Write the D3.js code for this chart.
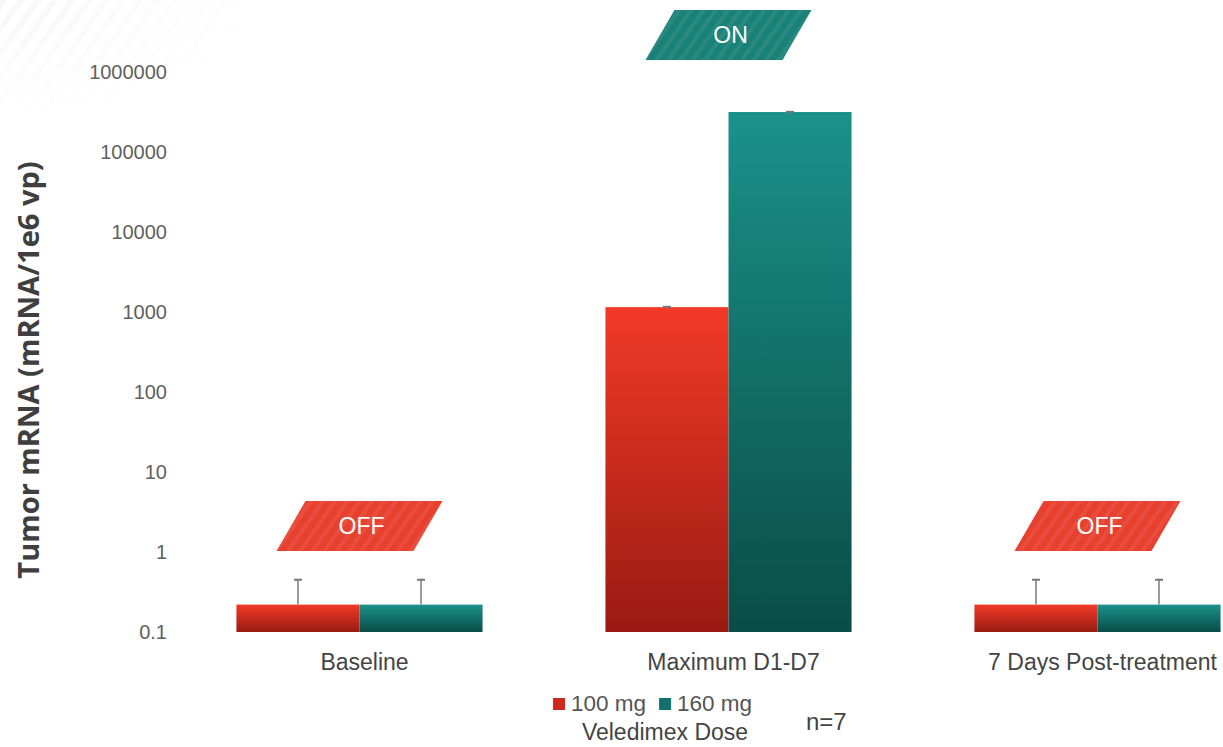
<!DOCTYPE html>
<html>
<head>
<meta charset="utf-8">
<script src="https://cdn.jsdelivr.net/npm/d3@7"></script>
<style>
  body { margin: 0; background: #fff; }
  svg { display: block; font-family: "Liberation Sans", Arial, sans-serif; }
</style>
</head>
<body>
<svg width="1223" height="747"></svg>
<script>
// Data: tumor mRNA per dose, log scale
const categories = ["Baseline", "Maximum D1-D7", "7 Days Post-treatment"];
const doses = ["100 mg", "160 mg"];
const dose100 = [0.22, 1150, 0.22];
const dose160 = [0.22, 316000, 0.22];
const errTop100 = [0.45, 1160, 0.45];
const errTop160 = [0.45, 318000, 0.45];
const states = ["OFF", "ON", "OFF"];
const yTicks = [0.1, 1, 10, 100, 1000, 10000, 100000, 1000000];

const svg = d3.select("svg");

const defs = svg.append("defs");
function grad(id, top, bottom) {
  const g = defs.append("linearGradient").attr("id", id)
    .attr("x1", 0).attr("y1", 0).attr("x2", 0).attr("y2", 1);
  g.append("stop").attr("offset", "0%").attr("stop-color", top);
  g.append("stop").attr("offset", "100%").attr("stop-color", bottom);
}
grad("g100", "#f23a27", "#991a12");
grad("g160", "#1a928a", "#0a4c47");

const stripes = defs.append("pattern").attr("id", "stripes")
  .attr("patternUnits", "userSpaceOnUse").attr("width", 10).attr("height", 10)
  .attr("patternTransform", "rotate(35)");
stripes.append("rect").attr("width", 4).attr("height", 10).attr("fill", "#fff").attr("opacity", 0.07);

const bgStripes = defs.append("pattern").attr("id", "bgstripes")
  .attr("patternUnits", "userSpaceOnUse").attr("width", 14).attr("height", 14)
  .attr("patternTransform", "rotate(35)");
bgStripes.append("rect").attr("width", 6).attr("height", 14).attr("fill", "#e6e6e6").attr("opacity", 0.35);
const fade = defs.append("radialGradient").attr("id", "fade").attr("cx", 0).attr("cy", 0).attr("r", 1);
fade.append("stop").attr("offset", "0%").attr("stop-color", "#fff").attr("stop-opacity", 1);
fade.append("stop").attr("offset", "100%").attr("stop-color", "#fff").attr("stop-opacity", 0);
const fm = defs.append("mask").attr("id", "fademask");
fm.append("rect").attr("width", 260).attr("height", 120).attr("fill", "url(#fade)");
svg.append("rect").attr("width", 260).attr("height", 120)
  .attr("fill", "url(#bgstripes)").attr("mask", "url(#fademask)");

// Scales
const y = d3.scaleLog().domain([0.1, 1000000]).range([632, 72]);
const x = d3.scaleBand().domain(categories).range([175, 1282]).paddingInner(0.333).paddingOuter(0.1665);
const xs = d3.scaleBand().domain(doses).range([0, x.bandwidth()]);

// Y axis (labels only)
const yAxis = svg.append("g").attr("transform", "translate(167,0)")
  .call(d3.axisLeft(y).tickValues(yTicks).tickSize(0).tickPadding(0).tickFormat(d => String(d)));
yAxis.select(".domain").remove();
yAxis.selectAll("text").attr("font-size", 20).attr("fill", "#5f5f5f")
  .attr("font-family", "'Liberation Sans', Arial, sans-serif");

svg.append("text")
  .attr("transform", "translate(39,370) rotate(-90)")
  .attr("text-anchor", "middle")
  .attr("font-family", "'Open Sans', sans-serif")
  .attr("font-weight", "bold").attr("font-size", 29).attr("fill", "#3f3f3f")
  .text("Tumor mRNA (mRNA/1e6 vp)");

// X axis labels
const xAxis = svg.append("g").attr("transform", "translate(5,649)")
  .call(d3.axisBottom(x).tickSize(0).tickPadding(5));
xAxis.select(".domain").remove();
xAxis.selectAll("text").attr("font-size", 23).attr("fill", "#444")
  .attr("font-family", "'Liberation Sans', Arial, sans-serif");

// Bars
const rows = categories.map((c, i) => ({
  cat: c,
  vals: [
    { dose: doses[0], v: dose100[i], e: errTop100[i], fill: "url(#g100)" },
    { dose: doses[1], v: dose160[i], e: errTop160[i], fill: "url(#g160)" }
  ]
}));

const groups = svg.selectAll(".grp").data(rows).enter().append("g")
  .attr("transform", d => `translate(${x(d.cat)},0)`);

groups.selectAll("rect").data(d => d.vals).enter().append("rect")
  .attr("x", d => xs(d.dose))
  .attr("y", d => y(d.v))
  .attr("width", xs.bandwidth())
  .attr("height", d => y(0.1) - y(d.v))
  .attr("fill", d => d.fill);

// Error bars
const eb = groups.selectAll(".eb").data(d => d.vals).enter().append("g").attr("class", "eb");
eb.append("line")
  .attr("x1", d => xs(d.dose) + xs.bandwidth() / 2)
  .attr("x2", d => xs(d.dose) + xs.bandwidth() / 2)
  .attr("y1", d => y(d.v)).attr("y2", d => y(d.e))
  .attr("stroke", "#9a9a9a").attr("stroke-width", 2);
eb.append("line")
  .attr("x1", d => xs(d.dose) + xs.bandwidth() / 2 - 4)
  .attr("x2", d => xs(d.dose) + xs.bandwidth() / 2 + 4)
  .attr("y1", d => y(d.e)).attr("y2", d => y(d.e))
  .attr("stroke", "#777").attr("stroke-width", 2);

// ON / OFF badges
const badgeW = 137, badgeH = 50, slant = 29;
states.forEach((s, i) => {
  const cx = x(categories[i]) + x.bandwidth() / 2;
  const top = s === "ON" ? 10 : 501;
  const col = s === "ON" ? "#1a8179" : "#e8402f";
  const x0 = cx - (badgeW + slant) / 2;
  const pts = [[x0 + slant, top], [x0 + slant + badgeW, top], [x0 + badgeW, top + badgeH], [x0, top + badgeH]];
  const b = svg.append("g");
  b.append("polygon").attr("points", pts.map(p => p.join(",")).join(" ")).attr("fill", col);
  b.append("polygon").attr("points", pts.map(p => p.join(",")).join(" ")).attr("fill", "url(#stripes)");
  b.append("text").attr("x", cx + 2).attr("y", top + badgeH / 2 + 8)
    .attr("text-anchor", "middle").attr("font-size", 23).attr("fill", "#fff").text(s);
});

// Legend
const legCols = ["#cf281c", "#13736c"];
const leg = svg.append("g").attr("transform", "translate(553,698)");
let lx = 0;
doses.forEach((d, i) => {
  leg.append("rect").attr("x", lx).attr("y", 0).attr("width", 12).attr("height", 12).attr("fill", legCols[i]);
  const t = leg.append("text").attr("x", lx + 18).attr("y", 13).attr("font-size", 22.5).attr("fill", "#555").text(d);
  lx += 18 + t.node().getComputedTextLength() + 13;
});
svg.append("text").attr("x", 665).attr("y", 740).attr("text-anchor", "middle")
  .attr("font-size", 23).attr("fill", "#444").text("Veledimex Dose");
svg.append("text").attr("x", 806).attr("y", 730)
  .attr("font-size", 24).attr("fill", "#444").text("n=7");
</script>
</body>
</html>
